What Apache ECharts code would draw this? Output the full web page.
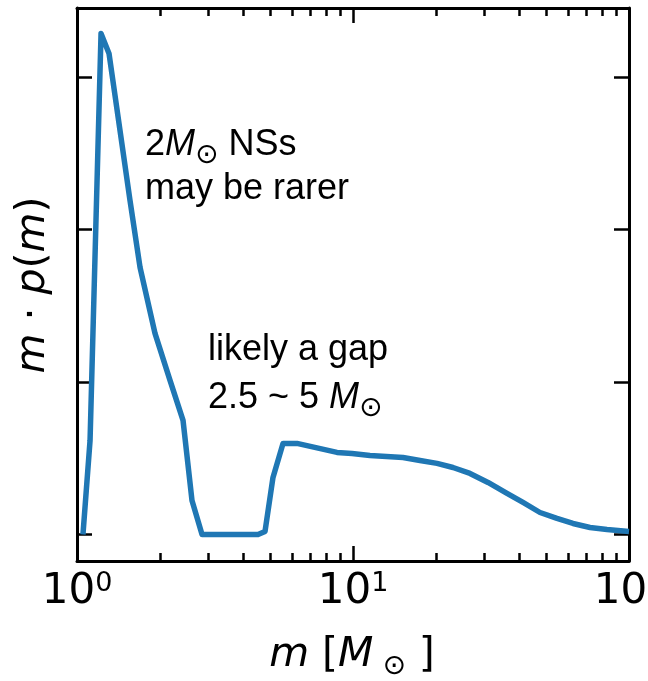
<!DOCTYPE html>
<html>
<head>
<meta charset="utf-8">
<script src="https://cdn.jsdelivr.net/npm/echarts@6/dist/echarts.min.js"></script>
<style>
  html, body { margin: 0; padding: 0; background: #fff; }
  #chart { width: 648px; height: 681px; }
</style>
</head>
<body>
<div id="chart"></div>
<script>
// Mass distribution m * p(m) of compact objects (arbitrary units)
const mass = [1.051, 1.115, 1.222, 1.306, 1.556, 1.692, 1.917, 2.173, 2.422, 2.610, 2.838,
              4.527, 4.800, 5.130, 5.577, 6.267, 8.750, 9.92, 11.52, 15.18, 17.49, 20.16,
              23.03, 26.54, 30.84, 36.14, 41.30, 47.60, 54.83, 62.67, 72.23, 83.23, 100];
const massDensity = [0, 0.616, 3.285, 3.154, 2.190, 1.751, 1.318, 1.010, 0.748, 0.223, 0,
                     0, 0.02, 0.374, 0.597, 0.597, 0.538, 0.531, 0.518, 0.505, 0.485, 0.466,
                     0.439, 0.400, 0.341, 0.269, 0.210, 0.144, 0.105, 0.072, 0.046, 0.033, 0.020];

// Axis ticks
const yTicks = [0, 1, 2, 3];
const tickExponents = ['0', '1', '2'];

// Annotations
const noteNsLine1 = '{n|2}{i|M}{sub|⊙}{n| NSs}';
const noteNsLine2 = 'may be rarer';
const noteGapLine1 = 'likely a gap';
const noteGapLine2 = '{n|2.5 ~ 5 }{i|M}{sub|⊙}';
const xTitle = '{i|m}{n| [}{i|M}{sub| ⊙}{n| ]}';
const yTitle = '{i|m}{n| · }{i|p}{n|(}{i|m}{n|)}';

const chart = echarts.init(document.getElementById('chart'), null, { renderer: 'canvas' });

const black = '#000';
function tickLine() { return { color: black, width: 2.5 }; }
function frameLine() { return { color: black, width: 3 }; }

// log mass axis: decade ticks plus 2..9 minor ticks, labels only at the bottom
function logAxisDef(position, gridIndex) {
  const withLabels = position === 'bottom';
  return {
    gridIndex: gridIndex,
    type: 'log',
    logBase: 10,
    min: 1,
    max: 100,
    position: position,
    axisLine: { show: true, onZero: false, lineStyle: frameLine() },
    axisTick: { show: true, inside: true, interval: 0, length: 15, lineStyle: tickLine() },
    minorTick: { show: true, splitNumber: 9, length: 8, lineStyle: tickLine() },
    axisLabel: withLabels ? {
      show: true,
      showMinLabel: true,
      showMaxLabel: true,
      margin: 9,
      formatter: function (v) {
        const e = Math.round(Math.log10(v));
        return '{b|10}{s|' + tickExponents[e] + '}';
      },
      rich: {
        b: { fontFamily: 'DejaVu Sans', fontSize: 42, color: black, lineHeight: 44 },
        s: { fontFamily: 'DejaVu Sans', fontSize: 27, color: black, verticalAlign: 'top', lineHeight: 30 }
      }
    } : { show: true, color: 'rgba(0,0,0,0)', fontSize: 10 },
    splitLine: { show: false }
  };
}

function yAxisDef(position, gridIndex) {
  return {
    gridIndex: gridIndex,
    type: 'value',
    min: -0.174,
    max: 3.452,
    position: position,
    axisLine: { show: true, onZero: false, lineStyle: frameLine() },
    axisTick: { show: true, inside: true, length: 15, customValues: yTicks, lineStyle: tickLine() },
    axisLabel: { show: false },
    splitLine: { show: false }
  };
}

const noteRich = {
  n: { fontFamily: 'Liberation Sans', fontSize: 36, color: black },
  i: { fontFamily: 'Liberation Sans', fontSize: 36, fontStyle: 'italic', color: black },
  sub: { fontFamily: 'DejaVu Sans', fontSize: 28, color: black, verticalAlign: 'bottom', lineHeight: 50 }
};
const titleRich = {
  n: { fontFamily: 'DejaVu Sans', fontSize: 41, color: black },
  i: { fontFamily: 'DejaVu Sans', fontSize: 41, fontStyle: 'italic', color: black },
  sub: { fontFamily: 'DejaVu Sans', fontSize: 28, color: black, verticalAlign: 'bottom', lineHeight: 52 }
};

function textEl(x, y, text, rich, align) {
  return {
    type: 'text',
    x: x,
    y: y,
    silent: true,
    style: {
      text: text,
      rich: rich,
      fontFamily: 'Liberation Sans',
      fontSize: 36,
      fill: black,
      align: align || 'left',
      verticalAlign: 'middle'
    }
  };
}

// two coincident grids: one frames the bottom/left edges, the other the top/right edges
function frameRect() { return { left: 77, right: 19, top: 8, bottom: 120, outerBoundsMode: 'none' }; }

const option = {
  animation: false,
  grid: [frameRect(), frameRect()],
  xAxis: [logAxisDef('bottom', 0), logAxisDef('top', 1)],
  yAxis: [yAxisDef('left', 0), yAxisDef('right', 1)],
  series: [{
    type: 'line',
    xAxisIndex: 0,
    yAxisIndex: 0,
    data: mass.map((m, i) => [m, massDensity[i]]),
    symbol: 'none',
    smooth: false,
    lineStyle: { color: '#1f77b4', width: 5.5, join: 'round', cap: 'butt' }
  }],
  graphic: [
    textEl(145, 145, noteNsLine1, noteRich),
    textEl(145, 189, noteNsLine2, noteRich),
    textEl(208, 350, noteGapLine1, noteRich),
    textEl(208, 398, noteGapLine2, noteRich),
    textEl(352, 655, xTitle, titleRich, 'center'),
    Object.assign(textEl(33, 285, yTitle, titleRich, 'center'), { rotation: Math.PI / 2 })
  ]
};

chart.setOption(option);
</script>
</body>
</html>
